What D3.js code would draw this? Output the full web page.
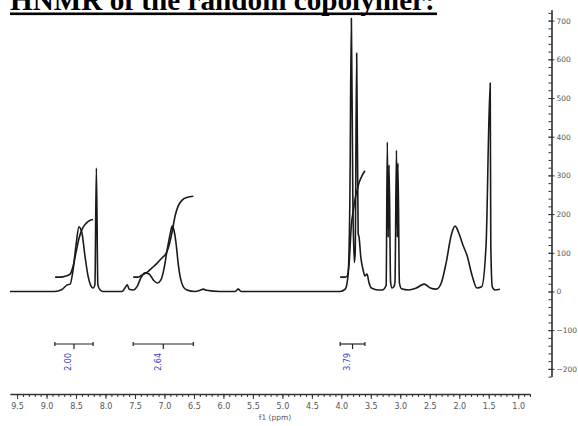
<!DOCTYPE html>
<html>
<head>
<meta charset="utf-8">
<script src="https://cdn.jsdelivr.net/npm/d3@7"></script>
<style>
  html, body { margin: 0; padding: 0; background: #fff; }
  svg { display: block; }
  .ax text { font-family: "DejaVu Sans", sans-serif; font-size: 7.5px; fill: #555; }
  .ax path, .ax line { stroke: #333; }
</style>
</head>
<body>
<div id="chart"></div>
<script>
// spectrum: chemical shift (ppm) and intensity
const specPpm = [9.62, 8.86, 8.74, 8.65, 8.60, 8.55, 8.50, 8.45, 8.40, 8.35, 8.30, 8.245, 8.21, 8.18, 8.155, 8.13, 8.09, 8.04,
  7.72, 7.67, 7.63, 7.60, 7.53, 7.46, 7.40, 7.33, 7.26, 7.19, 7.12, 7.06, 7.005, 6.955, 6.90, 6.87, 6.84, 6.80, 6.77, 6.73, 6.68, 6.62,
  6.48, 6.395, 6.34, 6.29, 6.06, 5.80, 5.75, 5.70, 4.70, 4.02, 3.935, 3.90, 3.88, 3.855, 3.83, 3.805, 3.78, 3.765, 3.74, 3.715,
  3.70, 3.67, 3.63, 3.60, 3.565, 3.53, 3.49, 3.37, 3.30, 3.24, 3.22, 3.205, 3.19, 3.165, 3.14, 3.11, 3.09, 3.065, 3.05, 3.04, 3.015,
  2.98, 2.86, 2.73, 2.595, 2.49, 2.39, 2.305, 2.22, 2.135, 2.07, 2.00, 1.93, 1.87, 1.78, 1.70, 1.62, 1.545, 1.475, 1.465, 1.44, 1.415,
  1.39, 1.31, 1.14, 0.77];
const specInt = [0, 0, 5, 17, 19, 56, 120, 167, 151, 94, 43, 14, 9, 17, 319, 17, 4, 0,
  0, 9, 17, 6, 4, 14, 35, 48, 45, 30, 22, 30, 61, 107, 151, 169, 159, 120, 76, 35, 12, 4,
  0, 3, 6, 3, 0, 0, 6, 0, 0, 0, 6, 25, 55, 240, 706, 240, 75, 100, 616, 150,
  141, 89, 55, 40, 45, 22, 9, 4, 4, 16, 386, 140, 327, 25, 9, 12, 25, 365, 140, 332, 22,
  7, 4, 9, 19, 9, 6, 22, 76, 146, 169, 148, 117, 94, 40, 9, 12, 120, 539, 120,
  12, 6, 4, 6];

// integral curves
const int1Ppm = [8.855, 8.77, 8.67, 8.60, 8.55, 8.50, 8.45, 8.40, 8.33, 8.26, 8.21];
const int1Val = [37, 37, 40, 45, 65, 101, 137, 160, 176, 184, 186];
const int2Ppm = [7.53, 7.45, 7.38, 7.29, 7.21, 7.12, 7.04, 6.97, 6.92, 6.87, 6.82, 6.77, 6.70, 6.62, 6.51];
const int2Val = [37, 37, 43, 50, 61, 74, 87, 99, 120, 154, 195, 220, 236, 243, 246];
const int3Ppm = [4.02, 3.935, 3.90, 3.87, 3.83, 3.80, 3.77, 3.73, 3.70, 3.65, 3.60];
const int3Val = [37, 37, 40, 69, 172, 206, 237, 263, 281, 299, 312];

// integration regions and their values
const regionFrom = [8.86, 7.53, 4.02];
const regionTo = [8.21, 6.51, 3.60];
const regionLabels = ["2.00", "2.64", "3.79"];

const xTicks = [9.5, 9.0, 8.5, 8.0, 7.5, 7.0, 6.5, 6.0, 5.5, 5.0, 4.5, 4.0, 3.5, 3.0, 2.5, 2.0, 1.5, 1.0];
const yTicks = [-200, -100, 0, 100, 200, 300, 400, 500, 600, 700];
const titleText = "HNMR of the random copolymer:";

const W = 578, H = 426;
const svg = d3.select("#chart").append("svg")
  .attr("width", W).attr("height", H);

const x = d3.scaleLinear().domain([9.62, 0.8]).range([10, 530]);
const y = d3.scaleLinear().domain([-220, 728]).range([376.6, 9.8]);
const axisY = 394;
const axisX = 551.5;

// title, cut at the top edge
const title = svg.append("text")
  .attr("x", 10).attr("y", 10)
  .style("font-family", "'Liberation Serif', 'Times New Roman', serif")
  .style("font-weight", "bold")
  .style("font-size", "30px")
  .text(titleText);
const tl = title.node().getComputedTextLength();
title.style("font-size", (30 * 425 / tl) + "px");
svg.append("rect")
  .attr("x", 10).attr("y", 12.5).attr("width", 427).attr("height", 2.6)
  .attr("fill", "#000");

// spectrum
const line = d3.line()
  .x(d => x(d[0])).y(d => y(d[1]))
  .curve(d3.curveMonotoneX);

svg.append("path")
  .datum(d3.zip(specPpm, specInt))
  .attr("fill", "none").attr("stroke", "#1a1a1a").attr("stroke-width", 1.6)
  .attr("stroke-linejoin", "round")
  .attr("d", line);

[[int1Ppm, int1Val], [int2Ppm, int2Val], [int3Ppm, int3Val]].forEach(([p, v]) => {
  svg.append("path")
    .datum(d3.zip(p, v))
    .attr("fill", "none").attr("stroke", "#1a1a1a").attr("stroke-width", 1.6)
    .attr("d", line);
});

// integration brackets
const brY = 344;
regionFrom.forEach((f, i) => {
  const x0 = x(f), x1 = x(regionTo[i]), xm = (x0 + x1) / 2;
  const g = svg.append("g").attr("stroke", "#222").attr("stroke-width", 1.2);
  g.append("line").attr("x1", x0).attr("x2", x1).attr("y1", brY).attr("y2", brY);
  g.append("line").attr("x1", x0).attr("x2", x0).attr("y1", brY - 2).attr("y2", brY + 2);
  g.append("line").attr("x1", x1).attr("x2", x1).attr("y1", brY - 2).attr("y2", brY + 2);
  g.append("line").attr("x1", xm).attr("x2", xm).attr("y1", brY).attr("y2", brY + 5);
  svg.append("text")
    .attr("transform", `translate(${xm - 5},${brY + 9}) rotate(-90)`)
    .attr("text-anchor", "end")
    .attr("dominant-baseline", "middle")
    .style("font-family", "'DejaVu Sans', sans-serif")
    .style("font-size", "8px")
    .attr("fill", "#3b3bb0")
    .text(regionLabels[i]);
});

// x axis
const minorX = d3.range(95, 7, -1).map(v => v / 10);
svg.append("g").attr("class", "ax")
  .attr("transform", `translate(0,${axisY})`)
  .call(d3.axisBottom(x).tickValues(minorX).tickSize(3).tickSizeOuter(0).tickFormat(""));
svg.append("g").attr("class", "ax")
  .attr("transform", `translate(0,${axisY})`)
  .call(d3.axisBottom(x).tickValues(xTicks).tickSize(5).tickSizeOuter(0).tickPadding(4).tickFormat(d3.format(".1f")))
  .call(g => g.select(".domain").attr("stroke-width", 1.3))
  .call(g => g.selectAll(".tick text").style("font-size", "8px"));
svg.append("text")
  .attr("x", 275).attr("y", 420)
  .attr("text-anchor", "middle")
  .style("font-family", "'DejaVu Sans', sans-serif")
  .style("font-size", "7.5px").attr("fill", "#555")
  .text("f1 (ppm)");

// y axis on the right
const minorY = d3.range(-220, 730, 20);
svg.append("g").attr("class", "ax")
  .attr("transform", `translate(${axisX},0)`)
  .call(d3.axisLeft(y).tickValues(minorY).tickSize(3).tickSizeOuter(0).tickFormat(""));
svg.append("g").attr("class", "ax")
  .attr("transform", `translate(${axisX},0)`)
  .call(d3.axisRight(y).tickValues(yTicks).tickSize(3).tickSizeOuter(0).tickPadding(2))
  .call(g => g.select(".domain").attr("stroke-width", 1.3))
  .call(g => g.selectAll(".tick line").attr("x1", -3));
</script>
</body>
</html>
